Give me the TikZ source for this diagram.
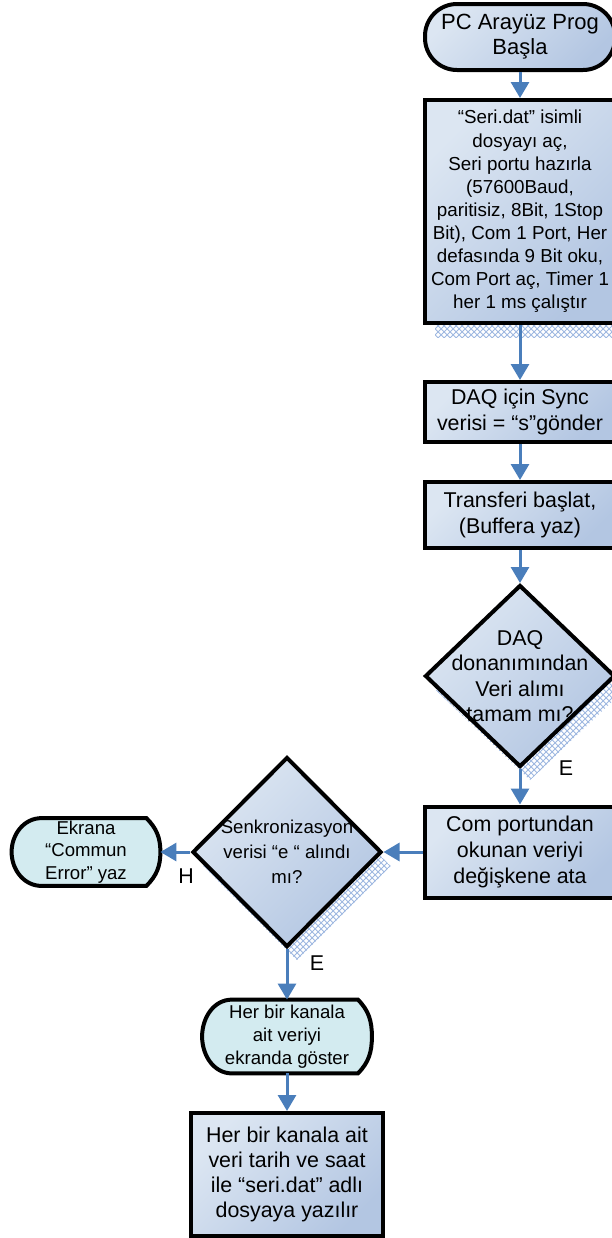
\documentclass[tikz,border=0pt]{standalone}
\usepackage{fontspec}
\setmainfont{Liberation Sans}
\usepackage{tikz}
\usetikzlibrary{shapes.geometric}
\usetikzlibrary{arrows.meta, shadows, patterns, backgrounds, positioning}

\definecolor{boxtop}{HTML}{DCE6F2}
\definecolor{boxbot}{HTML}{B3C6E2}
\definecolor{dispfill}{HTML}{D3EBF0}
\definecolor{flowblue}{HTML}{4A7EBB}
\definecolor{shadowblue}{HTML}{9DB7E0}

\newcommand{\normtext}{\fontsize{10.7pt}{12.8pt}\selectfont}
\newcommand{\smalltext}{\fontsize{9.3pt}{11.4pt}\selectfont}

% outline of the display shape, drawn behind the node
\newcommand{\dispshape}[1]{%
	\begin{scope}[on background layer]
		\filldraw[draw=black, line width=2pt, fill=dispfill]
		([xshift=15pt]#1.north west) -- ([xshift=-7pt]#1.north east)
		to[out=-45, in=90] (#1.east)
		to[out=-90, in=45] ([xshift=-7pt]#1.south east) --
		([xshift=15pt]#1.south west)
		to[out=180, in=-90] (#1.west)
		to[out=90, in=180] ([xshift=15pt]#1.north west) -- cycle;
	\end{scope}}

\begin{document}
\begin{tikzpicture}[
			x=0.5pt, y=-0.5pt,
			>={Triangle[width=9pt, length=8pt]},
			box/.style={
					draw=black,
					line width=2pt,
					top color=boxtop,
					bottom color=boxbot,
					shading angle=45,
					minimum width=95pt,
					inner sep=2pt,
					align=center,
					font=\normtext
				},
			shadowed/.style={
					drop shadow={shadow xshift=5pt, shadow yshift=-7pt,
							opacity=1, pattern=crosshatch, pattern color=shadowblue}
				},
			diam/.style={
					box,
					diamond,
					inner sep=0pt
				},
			disp/.style={
					draw=none,
					fill=none,
					inner sep=0pt,
					align=center,
					font=\smalltext
				},
			flow/.style={->, draw=flowblue, line width=1.5pt},
			lbl/.style={font=\normtext, inner sep=0pt}
		]
		\useasboundingbox (0,0) rectangle (611,1238);

		\node[box, minimum height=33pt, rounded corners=16pt,
			font=\fontsize{11pt}{12.6pt}\selectfont] (start) at (520,37) {PC Arayüz Prog\\Başla};
		\node[box, shadowed, minimum height=111.5pt,
			font=\fontsize{9.4pt}{11.55pt}\selectfont] (setup) at (520,211.5) {%
			“Seri.dat” isimli\\dosyayı aç,\\Seri portu hazırla\\(57600Baud,\\paritisiz, 8Bit, 1Stop\\
			Bit), Com 1 Port, Her\\defasında 9 Bit oku,\\Com Port aç, Timer 1\\her 1 ms çalıştır};
		\node[box, minimum height=30pt] (sync) at (520,412) {DAQ için Sync\\verisi = “s”gönder};
		\node[box, minimum height=33pt] (transfer) at (520,515) {Transferi başlat,\\(Buffera yaz)};

		\node[diam, shadowed, minimum width=95pt, minimum height=91pt] (ready) at (520,676) {};
		\node[lbl, align=center, font=\fontsize{10.7pt}{12.75pt}\selectfont] (readytxt) at (ready)
		{DAQ\\donanımından\\Veri alımı\\tamam mı?};

		\node[box, minimum height=45.5pt] (com) at (520,852) {Com portundan\\okunan veriyi\\değişkene ata};

		\node[diam, shadowed, minimum width=94.5pt, minimum height=95pt] (check) at (287,852) {};
		\node[lbl, align=center, font=\fontsize{9.3pt}{12.5pt}\selectfont] (checktxt) at (check)
		{Senkronizasyon\\verisi “e “ alındı\\mı?};

		\node[disp, minimum width=74pt, minimum height=33.5pt] (err) at (86,852) {Ekrana\\“Commun\\Error” yaz};
		\dispshape{err}
		\node[disp, minimum width=84.5pt, minimum height=36.5pt] (show) at (287,1036.5) {Her bir kanala\\ait veriyi\\ekranda göster};
		\dispshape{show}

		\node[box, minimum width=96pt, minimum height=61.5pt,
			font=\fontsize{10.7pt}{12.5pt}\selectfont] (save) at (287,1174.5)
		{Her bir kanala ait\\veri tarih ve saat\\ile “seri.dat” adlı\\dosyaya yazılır};

		% yes / no marks
		\node[lbl] (e1) at (566,768) {E};
		\node[lbl] (h1) at (186,876) {H};
		\node[lbl] (e2) at (317,963) {E};

		\draw[flow] (start) -- (setup);
		\draw[flow] (setup) -- (sync);
		\draw[flow] (sync) -- (transfer);
		\draw[flow] (transfer) -- (ready);
		\draw[flow] (ready) -- (com);
		\draw[flow] (com) -- (check);
		\draw[flow] (check) -- (err);
		\draw[flow] (check) -- (show);
		\draw[flow] (show) -- (save);

	\end{tikzpicture}
\end{document}
